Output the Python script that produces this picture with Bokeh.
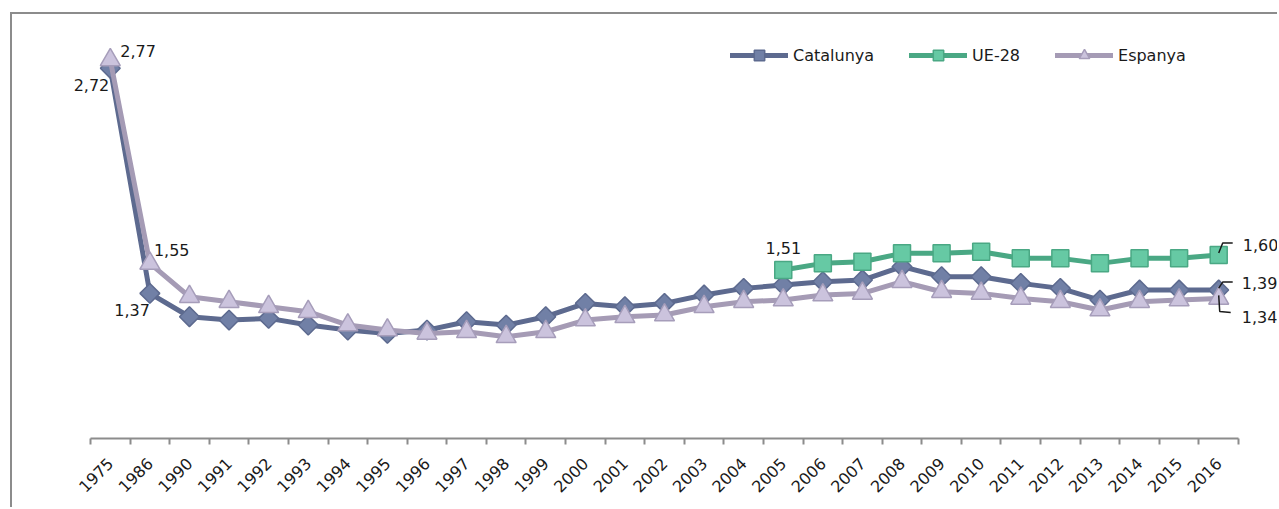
import math
import numpy as np
from bokeh.plotting import figure
from bokeh.models import (Range1d, LinearAxis, FixedTicker, Legend, LegendItem,
                          ColumnDataSource, Label)
from bokeh.embed import file_html
from bokeh.resources import INLINE

years = ["1975", "1986", "1990", "1991", "1992", "1993", "1994", "1995", "1996",
         "1997", "1998", "1999", "2000", "2001", "2002", "2003", "2004", "2005",
         "2006", "2007", "2008", "2009", "2010", "2011", "2012", "2013", "2014",
         "2015", "2016"]
catalunya = [2.72, 1.37, 1.23, 1.21, 1.22, 1.18, 1.15, 1.13, 1.15, 1.20, 1.18,
             1.23, 1.31, 1.29, 1.31, 1.36, 1.40, 1.42, 1.44, 1.45, 1.53, 1.47,
             1.47, 1.43, 1.40, 1.33, 1.39, 1.39, 1.39]
ue28 = [None] * 17 + [1.51, 1.55, 1.56, 1.61, 1.61, 1.62, 1.58, 1.58, 1.55,
                      1.58, 1.58, 1.60]
espanya = [2.77, 1.55, 1.35, 1.32, 1.29, 1.26, 1.18, 1.15, 1.13, 1.14, 1.11,
           1.14, 1.21, 1.23, 1.24, 1.29, 1.32, 1.33, 1.36, 1.37, 1.44, 1.38,
           1.37, 1.34, 1.32, 1.27, 1.32, 1.33, 1.34]

FONT = "DejaVu Sans"
TXT = "#1a1a1a"
GRAY = "#8c8c8c"

n = len(years)
# layout: category axis spans 1148 px; the frame extends 78 px to its left
# and 41 px to its right so that outer data labels are not clipped
CANVAS_W, CANVAS_H = 1267, 495
AXIS_PX = 1148.0
LEFT_PX, RIGHT_PX = 78.0, 41.0
unit = AXIS_PX / n
x0 = -0.5 - LEFT_PX / unit
x1 = n - 0.5 + RIGHT_PX / unit

p = figure(width=CANVAS_W, height=CANVAS_H, x_range=Range1d(x0, x1),
           y_range=Range1d(0.5, 3.0), output_backend="svg",
           toolbar_location=None, x_axis_location=None, y_axis_location=None,
           min_border_left=0, min_border_right=0, min_border_top=7,
           min_border_bottom=71)
for g in p.grid:
    g.visible = False
p.outline_line_color = None
p.background_fill_color = "white"
p.border_fill_color = "white"
p.margin = (12, 0, 0, 10)
p.styles = {"border-left": f"2px solid {GRAY}", "border-top": f"2px solid {GRAY}"}

xax = LinearAxis(ticker=FixedTicker(ticks=list(range(n)),
                                    minor_ticks=[i - 0.5 for i in range(n + 1)]),
                 bounds=(-0.5, n - 0.5),
                 major_label_overrides={i: y for i, y in enumerate(years)},
                 axis_line_color=GRAY, axis_line_width=2,
                 major_tick_line_color=None, major_tick_in=0, major_tick_out=0,
                 minor_tick_line_color=GRAY, minor_tick_line_width=2,
                 minor_tick_in=0, minor_tick_out=6,
                 major_label_orientation=math.pi / 4, major_label_standoff=16,
                 major_label_text_font=FONT, major_label_text_font_size="16px",
                 major_label_text_color=TXT)
p.add_layout(xax, "below")

def to_arr(vals):
    return np.array([np.nan if v is None else v for v in vals], dtype=float)

xs = np.arange(n)
series = [
    ("Catalunya", catalunya, "#5d6a8f", "#7180a6", "#5d6a8f", "square", math.pi / 4, 14),
    ("UE-28", ue28, "#4aa884", "#66c9a4", "#4aa884", "square", 0, 17),
    ("Espanya", espanya, "#a59bb5", "#cbc3dd", "#a69dba", "triangle", 0, 20),
]
items = []
for name, vals, lc, fc, oc, mk, ang, sz in series:
    src = ColumnDataSource(dict(x=xs, y=to_arr(vals)))
    ln = p.line("x", "y", source=src, line_color=lc, line_width=5,
                line_join="round", line_cap="round")
    sc = p.scatter("x", "y", source=src, marker=mk, angle=ang, size=sz,
                   fill_color=fc, line_color=oc, line_width=1.5)
    items.append(LegendItem(label=name, renderers=[ln, sc]))

legend = Legend(items=items, orientation="horizontal",
                location=(int(LEFT_PX) + 640, 370),
                glyph_width=58, glyph_height=26, label_standoff=5, spacing=35,
                padding=0, margin=0, border_line_color=None,
                background_fill_alpha=0, label_text_font=FONT,
                label_text_font_size="16px", label_text_color=TXT,
                label_height=26)
p.add_layout(legend, "center")

# data labels: (series, index, align, x offset px, y offset px downward)
data = {"cat": catalunya, "ue": ue28, "esp": espanya}
labels = [
    ("cat", 0, "right", -1, 17),
    ("esp", 0, "left", 10, -9),
    ("esp", 1, "left", 4, -13),
    ("cat", 1, "right", 0, 17),
    ("ue", 17, "center", 0, -22),
    ("ue", 28, "left", 24, -10),
    ("cat", 28, "left", 23, -7),
    ("esp", 28, "left", 23, 19),
]
for key, i, al, dx, dy in labels:
    v = data[key][i]
    p.add_layout(Label(x=i, y=v, text=f"{v:.2f}".replace(".", ","),
                       x_offset=dx, y_offset=-dy, text_align=al,
                       text_baseline="middle", text_font=FONT,
                       text_font_size="16px", text_color=TXT))

# leader lines for the last labels (offsets in px converted to data units)
px_x = 1.0 / unit
px_y = 2.5 / 417.0
leaders = [("ue", [(0, -2), (4, -12), (14, -12)]),
           ("cat", [(0, -2), (4, -8), (14, -8)]),
           ("esp", [(0, -3), (1, 13), (12, 14)])]
lx, ly = [], []
for key, pts in leaders:
    v = data[key][n - 1]
    lx.append([n - 1 + a * px_x for a, b in pts])
    ly.append([v - b * px_y for a, b in pts])
p.multi_line(lx, ly, line_color="#1a1a1a", line_width=1.5)

open("out.html", "w").write(file_html(p, INLINE))
